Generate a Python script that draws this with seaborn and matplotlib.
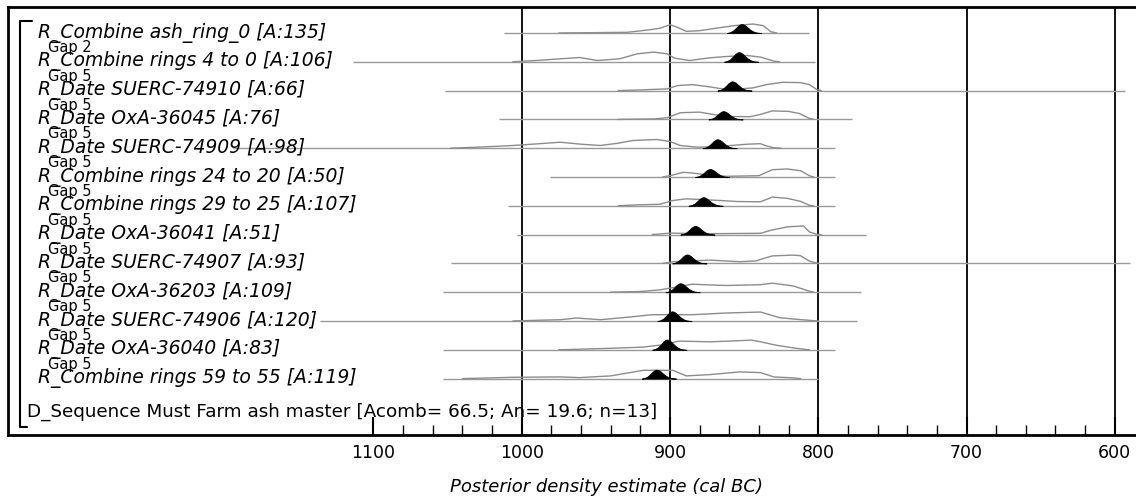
import numpy as np
import pandas as pd
import seaborn as sns
import matplotlib
matplotlib.use("Agg")
import matplotlib.pyplot as plt
from matplotlib.ticker import FixedLocator
from matplotlib.transforms import blended_transform_factory

# rows, top to bottom
labels = [
    "R_Combine ash_ring_0 [A:135]",
    "R_Combine rings 4 to 0 [A:106]",
    "R_Date SUERC-74910 [A:66]",
    "R_Date OxA-36045 [A:76]",
    "R_Date SUERC-74909 [A:98]",
    "R_Combine rings 24 to 20 [A:50]",
    "R_Combine rings 29 to 25 [A:107]",
    "R_Date OxA-36041 [A:51]",
    "R_Date SUERC-74907 [A:93]",
    "R_Date OxA-36203 [A:109]",
    "R_Date SUERC-74906 [A:120]",
    "R_Date OxA-36040 [A:83]",
    "R_Combine rings 59 to 55 [A:119]",
]
gaps = ["Gap 2"] + ["Gap 5"] * 11
sequence_label = "D_Sequence Must Farm ash master [Acomb= 66.5; An= 19.6; n=13]"

# posterior peaks (cal BC) and peak heights (px)
peak_year = [851.6, 853.5, 858, 864, 868, 873, 877.5, 883, 888.5, 893, 898.5, 902, 909]
peak_h = [9, 9.7, 9.3, 8.3, 9, 8, 8.7, 8.7, 9, 9, 9.7, 10.3, 9]
# shape of the posterior around its peak (years older +, relative height)
post_offset = [10, 8, 6, 4, 2.5, 1, 0, -1, -2.5, -4, -6, -8, -10, -13]
post_shape = [0, 0.08, 0.25, 0.55, 0.8, 0.96, 1, 0.96, 0.82, 0.6, 0.33, 0.15, 0.05, 0]

# extent of the range line under each row
line_from = [1012, 1114, 1052, 1015, 1195, 981, 1009, 1003, 1048, 1053, 1136, 1053, 1053]
line_to = [806, 802, 593, 777, 789, 789, 789, 768, 590, 771, 774, 789, 800]

# unmodelled likelihoods (year, height px)
curve01 = [(975, 0), (929, 0.7), (915, 3), (907, 4.7), (900, 8.3), (895, 5.7), (889, 1.7),
           (880, 2.3), (868, 5), (857, 7.3), (844, 9), (837, 7.3), (832, 1.3), (828, 0)]
curve02 = [(1006, 0), (988, 1.5), (974, 3), (961, 4.3), (949, 1.3), (934, 3), (922, 8), (911, 9.7),
           (902, 8), (897, 3.7), (887, 1.3), (873, 4), (862, 5.3), (848, 6.3), (839, 4.7),
           (830, 0.7), (826, 0)]
curve03 = [(935, 0), (920, 0.7), (902, 1.7), (895, 5), (885, 6), (873, 3.7), (866, 2), (855, 1.5),
           (844, 2.7), (835, 6), (824, 8.3), (812, 8), (806, 6), (801, 1), (798, 0)]
curve04 = [(935, 0), (910, 0.5), (902, 1.7), (893, 6.7), (880, 7.3), (871, 5), (862, 3), (846, 2.7),
           (839, 5), (831, 8.5), (820, 8), (813, 6), (806, 1), (803, 0)]
curve05 = [(1048, 0), (1030, 1), (1006, 2.7), (988, 4.5), (974, 6), (960, 4), (947, 2.7), (935, 5),
           (925, 7.7), (909, 8.7), (900, 6.7), (893, 2.7), (885, 1.5), (880, 1), (865, 2),
           (848, 4), (839, 4.5), (835, 2.3), (830, 0.5), (825, 0)]
curve06 = [(905, 0), (898, 2), (891, 4.7), (885, 4), (875, 2), (862, 0.7), (840, 1.3), (831, 7.3),
           (821, 8), (812, 6.3), (806, 1.3), (803, 0)]
curve07 = [(935, 0), (922, 1), (907, 1.5), (898, 5.3), (889, 7), (866, 5.3), (855, 4.3), (839, 4),
           (831, 8.7), (821, 7.5), (812, 4.5), (806, 0.5), (803, 0)]
curve08 = [(912, 0), (900, 1.5), (880, 1), (866, 1), (839, 1.3), (832, 4.3), (821, 7.7), (810, 8.7),
           (806, 2.7), (801, 0.3), (798, 0)]
curve09 = [(905, 0), (898, 1.7), (873, 3.3), (853, 1.7), (842, 2.5), (839, 4), (831, 7.5),
           (817, 8.3), (812, 7.7), (806, 2.3), (800, 0)]
curve10 = [(940, 0), (920, 0.7), (907, 2.3), (885, 8), (862, 6.7), (839, 7.5), (831, 9),
           (817, 6.3), (806, 1), (803, 0)]
curve11 = [(1006, 0), (990, 0.7), (974, 1.3), (963, 3), (947, 1.3), (929, 3.7), (912, 6.3),
           (885, 6.3), (862, 8), (839, 9), (826, 3.3), (817, 2), (806, 0.7), (800, 0)]
curve12 = [(975, 0), (940, 1.5), (918, 2.7), (905, 5), (894, 8.7), (873, 8), (855, 9), (845, 9.7),
           (839, 8), (828, 4.5), (815, 1.5), (806, 0)]
curve13 = [(1040, 0), (1006, 1.3), (974, 1.7), (961, 1), (940, 2.7), (918, 8.3), (898, 8.3),
           (889, 2.7), (873, 4), (853, 6.7), (839, 6), (830, 1.7), (817, 0.7), (812, 0)]
curves = [curve01, curve02, curve03, curve04, curve05, curve06, curve07,
          curve08, curve09, curve10, curve11, curve12, curve13]

major_ticks = [1100, 1000, 900, 800, 700, 600]
grid_years = [1000, 900, 800, 700, 600]

sns.set_theme(style="white")
plt.rcParams["font.family"] = ["DejaVu Sans"]
plt.rcParams["text.color"] = "black"
plt.rcParams["xtick.color"] = "black"
plt.rcParams["xtick.labelcolor"] = "black"

W, H = 1136, 502
ROW_PX = 28.8
fig = plt.figure(figsize=(W / 100, H / 100), dpi=100)
ax = fig.add_axes([8 / W, 1 - 436 / H, 1128 / W, 428 / H])
ax.set_xlim(1346.5, 585.7)
ax.set_ylim(13.958, -0.903)

def fx(x):
    return x / W

def fy(y):
    return 1 - y / H

for g in grid_years:
    ax.axvline(g, color="black", lw=1.3, zorder=1)

for i, c in enumerate(curves):
    ax.hlines(i, line_from[i], line_to[i], color="0.6", lw=1, zorder=2)
    df = pd.DataFrame(c, columns=["year", "h"])
    df["y"] = i - df["h"] / ROW_PX
    sns.lineplot(data=df, x="year", y="y", sort=False, estimator=None,
                 color="0.55", lw=1, ax=ax, zorder=3)
    px = peak_year[i] + np.array(post_offset)
    py = i - peak_h[i] * np.array(post_shape) / ROW_PX
    ax.fill_between(px, i, py, color="black", lw=0.6, zorder=4)

tr = blended_transform_factory(fig.transFigure, ax.transData)
for i, lab in enumerate(labels):
    ax.text(fx(38), i + 3.5 / ROW_PX, lab, transform=tr, fontsize=13.5,
            style="italic", va="baseline", ha="left", color="black", zorder=5)
for i, g in enumerate(gaps):
    ax.text(fx(48), i + 18 / ROW_PX, g, transform=tr, fontsize=10.5,
            va="baseline", ha="left", color="black", zorder=5)
ax.text(fx(27), 13.3, sequence_label, transform=tr, fontsize=13.2,
        va="baseline", ha="left", color="black", zorder=5)

# sequence bracket
fig.add_artist(plt.Line2D([fx(32), fx(20), fx(20), fx(27)],
                          [fy(22), fy(22), fy(428), fy(428)], color="black", lw=1.5))

ax.xaxis.set_major_locator(FixedLocator(major_ticks))
ax.xaxis.set_minor_locator(FixedLocator([y for y in range(1080, 599, -20) if y % 100]))
ax.set_xticklabels([str(t) for t in major_ticks])
ax.tick_params(axis="x", which="major", direction="in", length=13, width=1.5,
               color="black", labelcolor="black", labelsize=12.5, pad=6, bottom=True)
ax.tick_params(axis="x", which="minor", direction="in", length=7, width=1,
               color="black", bottom=True)
ax.set_yticks([])
ax.set_xlabel("")
ax.set_ylabel("")
for s in ["left", "top", "bottom"]:
    ax.spines[s].set_color("black")
    ax.spines[s].set_linewidth(2)
ax.spines["right"].set_visible(False)

fig.text(606 / W, fy(487), "Posterior density estimate (cal BC)", ha="center",
         va="center", fontsize=13, style="italic", color="black")

fig.savefig("out.png", dpi=100)
